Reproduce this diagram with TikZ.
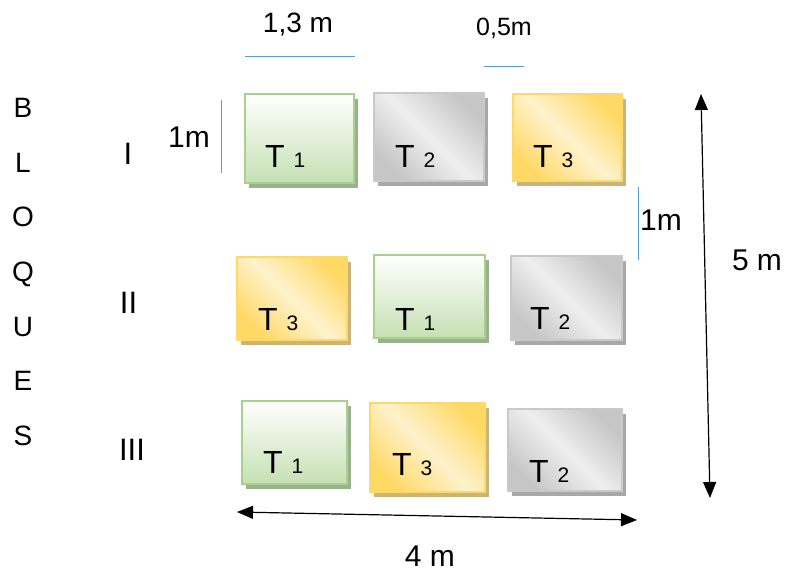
\documentclass[tikz,border=0pt]{standalone}
\usepackage{fontspec}
\setmainfont{Liberation Sans}
\usetikzlibrary{arrows.meta,shadows}
\definecolor{grnB}{HTML}{A9D18E}
\definecolor{grnF}{HTML}{C5E0B3}
\definecolor{grnS}{HTML}{9DAF91}
\definecolor{gryB}{HTML}{C9C9C9}
\definecolor{gryD}{HTML}{C6C6C6}
\definecolor{gryL}{HTML}{EFEFEF}
\definecolor{gryS}{HTML}{A8A8A8}
\definecolor{yelB}{HTML}{FFD966}
\definecolor{yelD}{HTML}{FFD966}
\definecolor{yelL}{HTML}{FFF2CC}
\definecolor{yelS}{HTML}{C8B47E}
\definecolor{blueL}{HTML}{5B9BD5}
\newcommand\myfs[1]{\fontsize{#1}{#1}\selectfont}
\begin{document}
\begin{tikzpicture}[x=1pt,y=-1pt,
  plot/.style={line width=2pt, inner sep=0pt},
  verde/.style={plot, draw=grnB, top color=white, bottom color=grnF,
    general shadow={fill=grnS, shadow xshift=4pt, shadow yshift=-5pt}},
  gris/.style={plot, draw=gryB, left color=gryD, right color=gryD, middle color=gryL, shading angle=-45,
    general shadow={fill=gryS, shadow xshift=4pt, shadow yshift=-5pt}},
  amar/.style={plot, draw=yelB, left color=yelD, right color=yelD, middle color=yelL, shading angle=-45,
    general shadow={fill=yelS, shadow xshift=4pt, shadow yshift=-5pt}},
  tlab/.style={anchor=base west, inner sep=0pt, font=\myfs{32}},
  dimline/.style={draw=blueL, line width=1pt},
  arr/.style={line width=1.2pt, {Triangle[length=16pt,width=13pt]}-{Triangle[length=16pt,width=13pt]}},
  txt/.style={inner sep=0pt, anchor=base},
]
\useasboundingbox (0,0) rectangle (785,571);

% plots row I
\node[verde, minimum width=109pt, minimum height=89pt] (a1) at (299.5,138.5) {};
\node[gris,  minimum width=110pt, minimum height=88pt] (a2) at (429,137) {};
\node[amar,  minimum width=109pt, minimum height=87pt] (a3) at (567.5,137.5) {};
% row II
\node[amar,  minimum width=110pt, minimum height=83pt] (b1) at (292,298.5) {};
\node[verde, minimum width=111pt, minimum height=83pt] (b2) at (429.5,296.5) {};
\node[gris,  minimum width=111pt, minimum height=84pt] (b3) at (566.5,298) {};
% row III
\node[verde, minimum width=105pt, minimum height=83pt] (c1) at (294.5,442.5) {};
\node[amar,  minimum width=115pt, minimum height=89pt] (c2) at (427.5,447.5) {};
\node[gris,  minimum width=114pt, minimum height=82pt] (c3) at (565,450) {};

% labels
\node[tlab] (la1) at (265,167) {T {\myfs{21}1}};
\node[tlab] (la2) at (395,167) {T {\myfs{21}2}};
\node[tlab] (la3) at (533,167) {T {\myfs{21}3}};
\node[tlab] (lb1) at (258,330) {T {\myfs{21}3}};
\node[tlab] (lb2) at (395,330) {T {\myfs{21}1}};
\node[tlab] (lb3) at (530,329) {T {\myfs{21}2}};
\node[tlab] (lc1) at (263,473) {T {\myfs{21}1}};
\node[tlab] (lc2) at (392,475) {T {\myfs{21}3}};
\node[tlab] (lc3) at (529,482) {T {\myfs{21}2}};

% BLOQUES
\foreach \l/\yy [count=\i] in {B/117,L/172,O/226,Q/281,U/336,E/390,S/445}
  \node[txt, font=\myfs{28}] (blq\i) at (23,\yy) {\l};

% block numbers
\node[txt, font=\myfs{31}] (nI) at (128,164) {I};
\node[txt, font=\myfs{31}] (nII) at (128.5,313) {II};
\node[txt, font=\myfs{31}] (nIII) at (132,460) {III};

% dimension texts
\node[txt, font=\myfs{28}] (d13) at (298,32) {1,3 m};
\node[txt, font=\myfs{25}] (d05) at (504,35) {0,5m};
\node[txt, font=\myfs{30}] (d1a) at (189,147) {1m};
\node[txt, font=\myfs{30}] (d1b) at (661,230) {1m};
\node[txt, font=\myfs{30}] (d5) at (757,270) {5 m};
\node[txt, font=\myfs{30}] (d4) at (430,566) {4 m};

% blue dimension lines
\coordinate (p1) at (245,56);  \coordinate (p2) at (355,56);
\coordinate (q1) at (484,66);  \coordinate (q2) at (524,66);
\coordinate (r1) at (221,100); \coordinate (r2) at (221,173);
\coordinate (s1) at (638,187); \coordinate (s2) at (638,260);
\draw[dimline] (p1) -- (p2);
\draw[dimline] (q1) -- (q2);
\draw[dimline] (r1) -- (r2);
\draw[dimline] (s1) -- (s2);

% black arrows
\coordinate (h1) at (237,512); \coordinate (h2) at (637,520);
\coordinate (v1) at (701,94);  \coordinate (v2) at (710,498);
\draw[arr] (h1) -- (h2);
\draw[arr] (v1) -- (v2);
\end{tikzpicture}
\end{document}
